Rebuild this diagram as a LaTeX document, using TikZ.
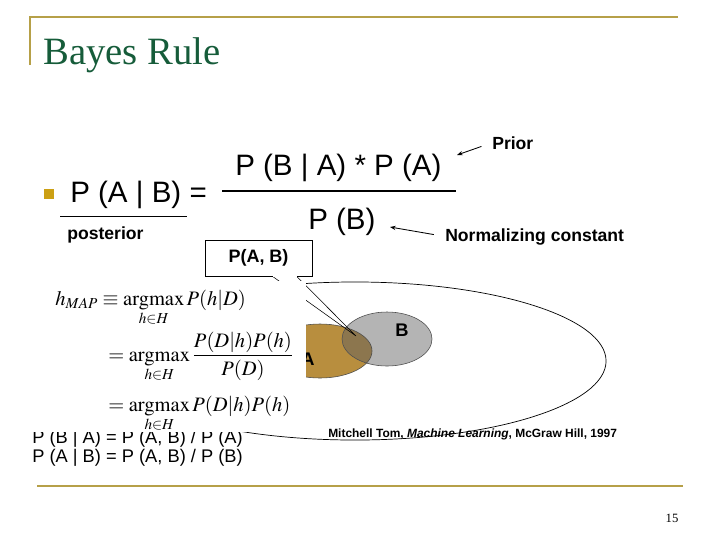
\documentclass[tikz,border=0pt]{standalone}
\usepackage{amsmath}
\usepackage{mathptmx}
\usepackage[no-math]{fontspec}
\setmainfont{Liberation Sans}
\newfontfamily\serif{Liberation Serif}
\usetikzlibrary{arrows.meta,positioning}
\definecolor{titlegreen}{RGB}{22,92,58}
\definecolor{rulegold}{RGB}{182,160,72}
\definecolor{bulletgold}{RGB}{204,160,20}
\definecolor{setA}{RGB}{184,142,62}
\definecolor{setB}{RGB}{180,180,180}
\definecolor{setAB}{RGB}{140,118,78}

\begin{document}
\begin{tikzpicture}[x=0.025cm,y=-0.025cm,>=Stealth,
  lbl/.style={font=\fontsize{12.5}{15}\selectfont\bfseries,inner sep=0pt},
  eqtxt/.style={font=\fontsize{21}{25}\selectfont,inner sep=0pt,anchor=base west},
  rel/.style={font=\fontsize{13}{16}\selectfont,inner sep=0pt,anchor=base west},
  mathln/.style={font=\fontsize{14.6}{17}\selectfont,inner sep=0pt,anchor=base west},
  pointer/.style={-{Stealth[length=4pt,width=3pt]},line width=0.6pt},
  frame/.style={rulegold,line width=1.5pt}]
\useasboundingbox (0,0) rectangle (720,540);
\draw[frame] (30,65) -- (30,17) -- (678,17);
\draw[frame] (37,486) -- (683,486);
\node[font=\serif\fontsize{27.5}{30}\selectfont,text=titlegreen,anchor=base west,inner sep=0pt] (title) at (43,64) {Bayes Rule};

\node[fill=bulletgold,minimum size=7pt,inner sep=0pt] (bullet) at (49,194) {};
\node[eqtxt] (lhs) at (70,202) {P (A | B) =};
\node[eqtxt] (num) at (235,175) {P (B | A) * P (A)};
\node[eqtxt] (den) at (308,229) {P (B)};
\draw[line width=1.4pt] (222,191) -- (456,191);
\draw[line width=0.6pt] (60,216) -- (187,216);
\node[lbl,anchor=base west] (post) at (67,239) {posterior};
\node[lbl,anchor=base west] (prior) at (492,149) {Prior};
\node[lbl,anchor=base west] (norm) at (445,241) {Normalizing constant};
\coordinate (priortip) at (457,155);
\coordinate (normtip) at (390,227);
\draw[pointer,shorten <=8pt] (prior.west) -- (priortip);
\draw[pointer,shorten <=8pt] (norm.west) -- (normtip);

\node[font=\fontsize{8.5}{10}\selectfont\bfseries,anchor=base west,inner sep=0pt] (cite) at (328,437) {Mitchell Tom, \textit{Machine Learning}, McGraw Hill, 1997};
\draw[line width=0.5pt] (355,361) ellipse [x radius=6.275cm,y radius=1.975cm];

\fill[setA] (320,351) ellipse [x radius=1.3cm,y radius=0.675cm];
\fill[setB] (387,339) ellipse [x radius=1.125cm,y radius=0.675cm];
\begin{scope}
\clip (320,351) ellipse [x radius=1.3cm,y radius=0.675cm];
\fill[setAB] (387,339) ellipse [x radius=1.125cm,y radius=0.675cm];
\end{scope}
\draw[line width=0.4pt,black!70] (320,351) ellipse [x radius=1.3cm,y radius=0.675cm];
\draw[line width=0.4pt,black!70] (387,339) ellipse [x radius=1.125cm,y radius=0.675cm];
\node[font=\fontsize{13}{15}\selectfont\bfseries,inner sep=0pt] (setAlbl) at (308,359) {A};
\node[font=\fontsize{13}{15}\selectfont\bfseries,inner sep=0pt] (setBlbl) at (402,330) {B};

\coordinate (pabL) at (273,276.7);
\coordinate (pabR) at (297,276.7);
\coordinate (pabtip) at (356,336);
\draw[line width=0.4pt] (pabL) -- (pabtip) -- (pabR);

\node[rel] (rule1) at (32,443) {P (B | A) = P (A, B) / P (A)};
\fill[white] (20,281) rectangle (306,432);
\node[mathln] (map) at (55,305) {$h_{MAP} \equiv \mathop{\mathrm{argmax}}\limits_{h\in H} P(h|D)$};
\node[mathln] (mapfrac) at (108,361) {$\displaystyle = \mathop{\mathrm{argmax}}\limits_{h\in H} \frac{P(D|h)P(h)}{P(D)}$};
\node[mathln] (mapml) at (108,411) {$= \mathop{\mathrm{argmax}}\limits_{h\in H} P(D|h)P(h)$};
\node[rel] (rule2) at (32,462) {P (A | B) = P (A, B) / P (B)};

\node[draw,fill=white,line width=0.5pt,minimum width=76pt,minimum height=26pt,font=\fontsize{12.8}{15}\selectfont\bfseries] (pab) at (258.5,258.3) {P(A, B)};
\draw[white,line width=1pt] (pabL) -- (pabR);

\node[font=\serif\fontsize{9}{10}\selectfont,inner sep=0pt] (pgno) at (672,518) {15};
\end{tikzpicture}
\end{document}
